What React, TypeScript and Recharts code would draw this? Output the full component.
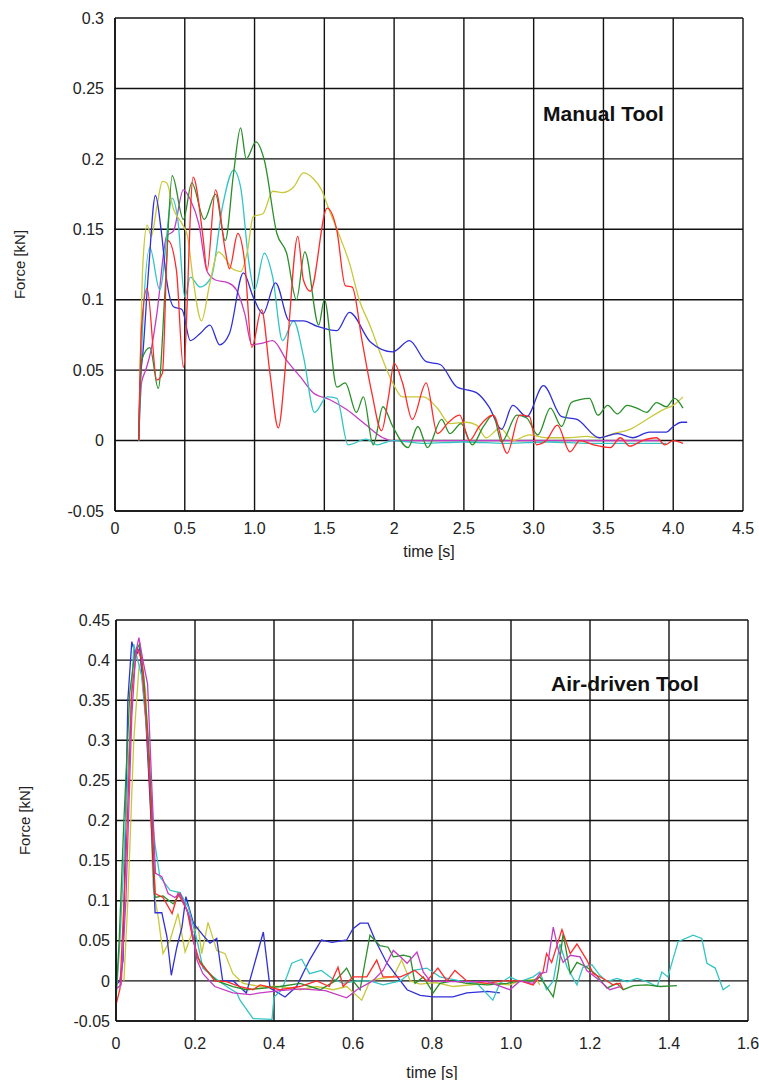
import { LineChart, Line, XAxis, YAxis, CartesianGrid } from 'recharts'

type Pt = [number, number]

// axis ticks and their printed labels
const manualXTicks = [0, 0.5, 1, 1.5, 2, 2.5, 3, 3.5, 4, 4.5]
const manualXLabels = ['0', '0.5', '1.0', '1.5', '2', '2.5', '3.0', '3.5', '4.0', '4.5']
const manualYTicks = [-0.05, 0, 0.05, 0.1, 0.15, 0.2, 0.25, 0.3]
const manualYLabels = ['-0.05', '0', '0.05', '0.1', '0.15', '0.2', '0.25', '0.3']

const airXTicks = [0, 0.2, 0.4, 0.6, 0.8, 1, 1.2, 1.4, 1.6]
const airXLabels = ['0', '0.2', '0.4', '0.6', '0.8', '1.0', '1.2', '1.4', '1.6']
const airYTicks = [-0.05, 0, 0.05, 0.1, 0.15, 0.2, 0.25, 0.3, 0.35, 0.4, 0.45]
const airYLabels = ['-0.05', '0', '0.05', '0.1', '0.15', '0.2', '0.25', '0.3', '0.35', '0.4', '0.45']

// manual tool, [time s, force kN]
const manualBlue: Pt[] = [
  [0.17, 0], [0.18, 0.04], [0.2, 0.062], [0.24, 0.12], [0.29, 0.174], [0.33, 0.15], [0.37, 0.114],
  [0.42, 0.095], [0.48, 0.093], [0.54, 0.071], [0.61, 0.076], [0.68, 0.082], [0.75, 0.068],
  [0.82, 0.076], [0.92, 0.119], [0.99, 0.102], [1.06, 0.09], [1.15, 0.112], [1.25, 0.085],
  [1.35, 0.085], [1.45, 0.081], [1.59, 0.078], [1.68, 0.091], [1.83, 0.07], [1.99, 0.063],
  [2.11, 0.071], [2.23, 0.056], [2.33, 0.054], [2.45, 0.038], [2.59, 0.034], [2.68, 0.024],
  [2.77, 0.008], [2.85, 0.025], [2.95, 0.017], [3.07, 0.039], [3.2, 0.017], [3.31, 0.015],
  [3.47, 0.002], [3.6, 0.005], [3.71, 0.002], [3.83, 0.006], [3.95, 0.006], [4.0, 0.01],
  [4.06, 0.013], [4.1, 0.013],
]
const manualGreen: Pt[] = [
  [0.17, 0], [0.19, 0.057], [0.25, 0.066], [0.31, 0.037], [0.36, 0.109], [0.41, 0.188], [0.49, 0.157],
  [0.55, 0.183], [0.64, 0.157], [0.72, 0.175], [0.79, 0.142], [0.85, 0.19], [0.9, 0.222],
  [0.94, 0.2], [1.01, 0.212], [1.07, 0.199], [1.16, 0.147], [1.23, 0.133], [1.3, 0.1],
  [1.36, 0.134], [1.46, 0.082], [1.5, 0.1], [1.59, 0.038], [1.65, 0.041], [1.73, 0.02],
  [1.78, 0.031], [1.85, -0.003], [1.92, 0.024], [1.99, 0.01], [2.1, -0.005], [2.17, 0.01],
  [2.24, -0.005], [2.34, 0.015], [2.4, 0.005], [2.48, 0.012], [2.56, -0.003], [2.64, 0.01],
  [2.71, 0.018], [2.77, -0.001], [2.88, 0.018], [2.95, 0.016], [3.03, 0.004], [3.12, 0.023],
  [3.2, 0.01], [3.27, 0.027], [3.33, 0.029], [3.4, 0.03], [3.46, 0.018], [3.53, 0.025],
  [3.6, 0.019], [3.67, 0.025], [3.74, 0.023], [3.81, 0.02], [3.88, 0.027], [3.95, 0.024],
  [4.01, 0.03], [4.07, 0.023],
]
const manualRed: Pt[] = [
  [0.17, 0], [0.19, 0.08], [0.23, 0.108], [0.3, 0.043], [0.34, 0.048], [0.38, 0.142], [0.44, 0.121],
  [0.49, 0.052], [0.56, 0.187], [0.63, 0.145], [0.66, 0.121], [0.72, 0.178], [0.79, 0.135],
  [0.82, 0.122], [0.88, 0.147], [0.93, 0.126], [0.98, 0.066], [1.05, 0.093], [1.11, 0.048],
  [1.17, 0.009], [1.23, 0.062], [1.31, 0.145], [1.35, 0.114], [1.4, 0.106], [1.52, 0.165],
  [1.59, 0.149], [1.65, 0.11], [1.7, 0.109], [1.77, 0.071], [1.84, 0.034], [1.91, 0.007],
  [1.96, 0.031], [2.0, 0.055], [2.06, 0.041], [2.13, 0.015], [2.23, 0.041], [2.31, 0.005],
  [2.39, 0.013], [2.47, 0.018], [2.54, 0], [2.61, 0.01], [2.71, 0.018], [2.81, -0.009],
  [2.9, 0.018], [2.97, 0.017], [3.02, -0.003], [3.09, 0], [3.17, 0.011], [3.26, -0.008],
  [3.33, 0], [3.43, -0.003], [3.55, -0.005], [3.62, 0.002], [3.69, -0.004], [3.78, 0],
  [3.88, 0.002], [3.94, -0.003], [4.0, 0], [4.07, -0.002],
]
const manualCyan: Pt[] = [
  [0.17, 0], [0.19, 0.062], [0.25, 0.137], [0.32, 0.107], [0.41, 0.172], [0.45, 0.157], [0.5, 0.102],
  [0.54, 0.116], [0.61, 0.109], [0.69, 0.116], [0.77, 0.166], [0.85, 0.192], [0.9, 0.18],
  [0.96, 0.126], [1.0, 0.107], [1.07, 0.133], [1.13, 0.116], [1.2, 0.071], [1.28, 0.085],
  [1.35, 0.06], [1.43, 0.02], [1.52, 0.031], [1.59, 0.03], [1.67, -0.003], [1.8, 0.001],
  [1.88, -0.003], [1.99, 0], [2.2, -0.002], [2.5, -0.001], [2.8, -0.002], [3.1, -0.001],
  [3.4, -0.002], [3.7, -0.002], [3.95, -0.002],
]
const manualMagenta: Pt[] = [
  [0.17, 0], [0.19, 0.041], [0.22, 0.05], [0.26, 0.065], [0.3, 0.09], [0.37, 0.145], [0.42, 0.149],
  [0.49, 0.178], [0.54, 0.171], [0.6, 0.154], [0.66, 0.12], [0.72, 0.114], [0.81, 0.112],
  [0.87, 0.107], [0.93, 0.09], [0.98, 0.068], [1.05, 0.069], [1.13, 0.071], [1.23, 0.057],
  [1.33, 0.045], [1.42, 0.034], [1.54, 0.029], [1.66, 0.022], [1.8, 0.011], [1.92, 0.002],
  [1.98, 0], [2.5, 0], [3.0, 0], [3.5, 0], [3.9, 0],
]
const manualYellow: Pt[] = [
  [0.17, 0], [0.2, 0.126], [0.23, 0.153], [0.26, 0.145], [0.3, 0.166], [0.34, 0.184], [0.37, 0.183],
  [0.42, 0.164], [0.48, 0.154], [0.52, 0.145], [0.56, 0.114], [0.62, 0.085], [0.68, 0.112],
  [0.74, 0.134], [0.8, 0.128], [0.84, 0.122], [0.9, 0.12], [0.95, 0.135], [0.99, 0.159],
  [1.06, 0.161], [1.13, 0.177], [1.2, 0.176], [1.28, 0.18], [1.35, 0.19], [1.42, 0.186],
  [1.48, 0.178], [1.53, 0.165], [1.61, 0.145], [1.68, 0.126], [1.75, 0.1], [1.83, 0.081],
  [1.92, 0.057], [1.99, 0.041], [2.06, 0.031], [2.14, 0.031], [2.21, 0.031], [2.31, 0.023],
  [2.4, 0.012], [2.52, 0.013], [2.59, 0.011], [2.66, 0.002], [2.76, 0.009], [2.85, 0],
  [2.97, 0.004], [3.09, 0.002], [3.24, 0.002], [3.38, 0.003], [3.47, 0.002], [3.57, 0.005],
  [3.69, 0.008], [3.81, 0.015], [3.93, 0.022], [4.0, 0.025], [4.07, 0.031],
]

// air-driven tool, [time s, force kN]
const airBlue: Pt[] = [
  [0, -0.005], [0.01, 0], [0.018, 0.026], [0.03, 0.35], [0.04, 0.423], [0.05, 0.405], [0.06, 0.415],
  [0.075, 0.33], [0.09, 0.19], [0.099, 0.085], [0.116, 0.085], [0.129, 0.055], [0.14, 0.007],
  [0.154, 0.042], [0.167, 0.067], [0.177, 0.105], [0.196, 0.072], [0.22, 0.057], [0.238, 0.047],
  [0.255, 0.053], [0.27, 0], [0.297, 0], [0.33, -0.015], [0.373, 0.061], [0.39, -0.009],
  [0.428, -0.02], [0.457, -0.007], [0.49, 0.026], [0.52, 0.051], [0.547, 0.048], [0.584, 0.051],
  [0.6, 0.065], [0.618, 0.072], [0.638, 0.072], [0.656, 0.051], [0.686, 0.022], [0.737, -0.011],
  [0.77, -0.018], [0.803, -0.02], [0.853, -0.02], [0.888, -0.015], [0.94, -0.013], [0.972, -0.015],
]
const airCyan: Pt[] = [
  [0, -0.024], [0.01, 0.05], [0.027, 0.225], [0.045, 0.42], [0.055, 0.4], [0.065, 0.38], [0.08, 0.3],
  [0.092, 0.2], [0.099, 0.169], [0.111, 0.13], [0.137, 0.113], [0.162, 0.11], [0.183, 0.092],
  [0.205, 0.051], [0.22, 0.016], [0.246, 0.005], [0.28, -0.007], [0.306, -0.015], [0.314, -0.024],
  [0.347, -0.047], [0.395, -0.048], [0.4, -0.02], [0.42, -0.011], [0.445, 0.022], [0.47, 0.027],
  [0.49, 0.009], [0.52, 0.013], [0.547, 0.003], [0.575, -0.003], [0.61, 0], [0.643, 0],
  [0.676, -0.005], [0.72, 0], [0.752, 0.013], [0.787, 0.016], [0.82, 0.005], [0.871, 0],
  [0.914, -0.003], [0.954, -0.024], [0.972, -0.003], [0.997, 0.005], [1.023, -0.001],
  [1.056, 0.005], [1.073, 0.011], [1.09, -0.011], [1.107, 0], [1.124, 0.046], [1.142, 0.017],
  [1.167, -0.005], [1.182, 0.017], [1.205, 0.02], [1.225, 0.007], [1.243, -0.001], [1.268, 0.003],
  [1.294, -0.001], [1.319, 0.003], [1.344, -0.001], [1.37, -0.007], [1.382, 0.011], [1.397, 0.005],
  [1.423, 0.049], [1.461, 0.057], [1.483, 0.053], [1.496, 0.022], [1.517, 0.016], [1.537, -0.011],
  [1.554, -0.005],
]
const airMagenta: Pt[] = [
  [0, -0.01], [0.013, -0.005], [0.025, 0.1], [0.04, 0.33], [0.05, 0.41], [0.058, 0.428], [0.068, 0.4],
  [0.08, 0.37], [0.09, 0.25], [0.1, 0.134], [0.116, 0.13], [0.132, 0.109], [0.149, 0.104],
  [0.162, 0.109], [0.187, 0.079], [0.205, 0.026], [0.22, 0.009], [0.25, -0.007], [0.296, -0.015],
  [0.34, -0.017], [0.365, -0.015], [0.415, -0.012], [0.47, -0.01], [0.53, -0.012], [0.584, -0.021],
  [0.61, -0.011], [0.65, 0], [0.676, 0.013], [0.702, 0.038], [0.72, 0.03], [0.737, 0.022],
  [0.762, 0.036], [0.778, 0.011], [0.795, 0], [0.853, -0.001], [0.94, -0.001], [0.997, -0.011],
  [1.023, 0], [1.056, -0.003], [1.073, 0.009], [1.09, 0.011], [1.107, 0.067], [1.12, 0.038],
  [1.132, 0.023], [1.15, 0.032], [1.175, 0.03], [1.192, 0.013], [1.218, 0.003], [1.25, -0.011],
  [1.276, -0.007],
]
const airRed: Pt[] = [
  [0, -0.03], [0.01, -0.01], [0.025, 0.15], [0.04, 0.36], [0.053, 0.416], [0.065, 0.4], [0.08, 0.3],
  [0.09, 0.2], [0.099, 0.109], [0.119, 0.104], [0.142, 0.084], [0.157, 0.109], [0.18, 0.088],
  [0.195, 0.051], [0.213, 0.022], [0.23, 0.013], [0.25, 0], [0.28, -0.001], [0.314, -0.007],
  [0.347, -0.011], [0.365, -0.005], [0.415, -0.011], [0.466, -0.007], [0.508, 0], [0.54, -0.007],
  [0.562, 0.017], [0.575, -0.007], [0.6, 0.005], [0.635, 0.005], [0.66, 0.026], [0.676, 0.005],
  [0.72, 0.005], [0.757, 0.013], [0.787, 0], [0.815, 0.016], [0.838, 0], [0.858, 0.013],
  [0.888, 0], [0.94, -0.003], [0.98, 0], [1.023, 0], [1.056, -0.005], [1.081, 0.011], [1.09, 0.034],
  [1.103, 0.023], [1.129, 0.064], [1.15, 0.034], [1.167, 0.046], [1.192, 0.026], [1.208, 0.009],
  [1.233, 0.003], [1.258, -0.005], [1.276, -0.003], [1.284, -0.011],
]
const airGreen: Pt[] = [
  [0, -0.02], [0.008, 0.05], [0.02, 0.2], [0.035, 0.36], [0.048, 0.41], [0.06, 0.42], [0.07, 0.38],
  [0.082, 0.3], [0.092, 0.2], [0.099, 0.104], [0.119, 0.106], [0.145, 0.096], [0.162, 0.109],
  [0.183, 0.084], [0.205, 0.03], [0.23, 0.013], [0.255, 0], [0.296, -0.007], [0.33, -0.011],
  [0.415, -0.007], [0.466, -0.003], [0.517, -0.011], [0.555, 0], [0.584, 0.016], [0.6, 0],
  [0.618, -0.011], [0.63, 0.022], [0.643, 0.057], [0.668, 0.044], [0.689, 0.042], [0.702, 0.03],
  [0.727, 0.032], [0.745, 0.03], [0.757, -0.003], [0.778, 0.005], [0.803, -0.015], [0.82, -0.003],
  [0.853, 0], [0.888, -0.003], [0.94, -0.005], [0.99, -0.003], [1.023, 0], [1.056, 0],
  [1.073, 0.005], [1.107, -0.02], [1.12, 0.013], [1.132, 0.059], [1.15, 0.009], [1.167, 0.023],
  [1.192, 0.017], [1.213, 0.009], [1.243, -0.009], [1.268, -0.003], [1.284, -0.011], [1.31, -0.006],
  [1.344, -0.005], [1.378, -0.007], [1.42, -0.006],
]
const airYellow: Pt[] = [
  [0.02, 0], [0.03, 0.1], [0.045, 0.3], [0.058, 0.39], [0.065, 0.4], [0.075, 0.36], [0.085, 0.25],
  [0.094, 0.117], [0.107, 0.079], [0.119, 0.034], [0.137, 0.051], [0.157, 0.084], [0.175, 0.036],
  [0.192, 0.059], [0.208, 0.067], [0.217, 0.034], [0.233, 0.073], [0.255, 0.038], [0.276, 0.034],
  [0.296, 0.009], [0.322, -0.003], [0.365, -0.007], [0.415, -0.007], [0.466, -0.011], [0.508, -0.007],
  [0.55, -0.011], [0.584, -0.007], [0.622, -0.024], [0.643, 0], [0.668, 0.003], [0.702, 0.005],
  [0.723, 0.026], [0.745, 0], [0.77, -0.004], [0.81, -0.002], [0.853, -0.007], [0.94, -0.003],
  [0.997, -0.005], [1.023, 0], [1.064, 0.002], [1.073, -0.005],
]

const colors = {
  blue: '#3030d8',
  green: '#2a8f2a',
  red: '#ff2a2a',
  cyan: '#33c4c4',
  magenta: '#c43cc4',
  yellow: '#c8c83a',
}

const font = '"Liberation Sans", Arial, sans-serif'

interface Series {
  points: Pt[]
  color: string
}

interface PanelProps {
  top: number
  height: number
  margin: { top: number; right: number; bottom: number; left: number }
  yAxisWidth: number
  xAxisHeight: number
  xTicks: number[]
  xLabels: string[]
  yTicks: number[]
  yLabels: string[]
  xTickMargin: number
  yTickMargin: number
  yLabelOffset: number
  xLabelOffset: number
  curve: 'monotone' | 'linear'
  series: Series[]
  title: string
  titleLeft: number
  titleTop: number
}

const toPoints = (pts: Pt[]) => pts.map(([t, f]) => ({ t, f }))

function ForcePanel(p: PanelProps) {
  const tickStyle = { fill: '#222', fontSize: 16, fontFamily: font }
  return (
    <div style={{ position: 'absolute', left: 0, top: p.top, width: 759, height: p.height }}>
      <LineChart width={759} height={p.height} margin={p.margin}>
        <CartesianGrid stroke="#111" strokeWidth={1.4} />
        <XAxis
          type="number"
          dataKey="t"
          domain={[p.xTicks[0], p.xTicks[p.xTicks.length - 1]]}
          ticks={p.xTicks}
          tickFormatter={(_v: number, i: number) => p.xLabels[i]}
          height={p.xAxisHeight}
          tick={tickStyle}
          tickLine={false}
          tickSize={0}
          tickMargin={p.xTickMargin}
          axisLine={{ stroke: '#111', strokeWidth: 1.6 }}
          allowDataOverflow
          label={{
            value: 'time [s]',
            position: 'insideBottom',
            offset: p.xLabelOffset,
            style: { fill: '#222', fontSize: 16, fontFamily: font },
          }}
        />
        <YAxis
          type="number"
          domain={[p.yTicks[0], p.yTicks[p.yTicks.length - 1]]}
          ticks={p.yTicks}
          tickFormatter={(_v: number, i: number) => p.yLabels[i]}
          width={p.yAxisWidth}
          tick={tickStyle}
          tickLine={false}
          tickSize={0}
          tickMargin={p.yTickMargin}
          axisLine={{ stroke: '#111', strokeWidth: 1.6 }}
          allowDataOverflow
          label={{
            value: 'Force [kN]',
            angle: -90,
            position: 'insideLeft',
            offset: p.yLabelOffset,
            style: { textAnchor: 'middle', fill: '#222', fontSize: 15, fontFamily: font },
          }}
        />
        {p.series.map((s, i) => (
          <Line
            key={i}
            data={toPoints(s.points)}
            dataKey="f"
            type={p.curve}
            stroke={s.color}
            strokeWidth={1.3}
            dot={false}
            activeDot={false}
            isAnimationActive={false}
          />
        ))}
      </LineChart>
      <div
        style={{
          position: 'absolute',
          left: p.titleLeft,
          top: p.titleTop - p.top,
          fontFamily: font,
          fontWeight: 'bold',
          fontSize: 21,
          lineHeight: '21px',
          color: '#111',
          whiteSpace: 'nowrap',
        }}
      >
        {p.title}
      </div>
    </div>
  )
}

export default function App() {
  return (
    <div style={{ position: 'absolute', left: 0, top: 0, width: 759, height: 1080, background: '#fff' }}>
      <ForcePanel
        top={0}
        height={580}
        margin={{ top: 18, right: 16, bottom: 0, left: 0 }}
        yAxisWidth={115}
        xAxisHeight={69}
        xTicks={manualXTicks}
        xLabels={manualXLabels}
        yTicks={manualYTicks}
        yLabels={manualYLabels}
        xTickMargin={12}
        yTickMargin={11}
        yLabelOffset={20}
        xLabelOffset={23}
        curve="monotone"
        series={[
          { points: manualMagenta, color: colors.magenta },
          { points: manualCyan, color: colors.cyan },
          { points: manualYellow, color: colors.yellow },
          { points: manualBlue, color: colors.blue },
          { points: manualGreen, color: colors.green },
          { points: manualRed, color: colors.red },
        ]}
        title="Manual Tool"
        titleLeft={543}
        titleTop={103}
      />
      <ForcePanel
        top={580}
        height={500}
        margin={{ top: 40, right: 11, bottom: 0, left: 0 }}
        yAxisWidth={116}
        xAxisHeight={59}
        xTicks={airXTicks}
        xLabels={airXLabels}
        yTicks={airYTicks}
        yLabels={airYLabels}
        xTickMargin={17}
        yTickMargin={6}
        yLabelOffset={25}
        xLabelOffset={2}
        curve="linear"
        series={[
          { points: airYellow, color: colors.yellow },
          { points: airBlue, color: colors.blue },
          { points: airCyan, color: colors.cyan },
          { points: airGreen, color: colors.green },
          { points: airRed, color: colors.red },
          { points: airMagenta, color: colors.magenta },
        ]}
        title="Air-driven Tool"
        titleLeft={551}
        titleTop={673}
      />
    </div>
  )
}
